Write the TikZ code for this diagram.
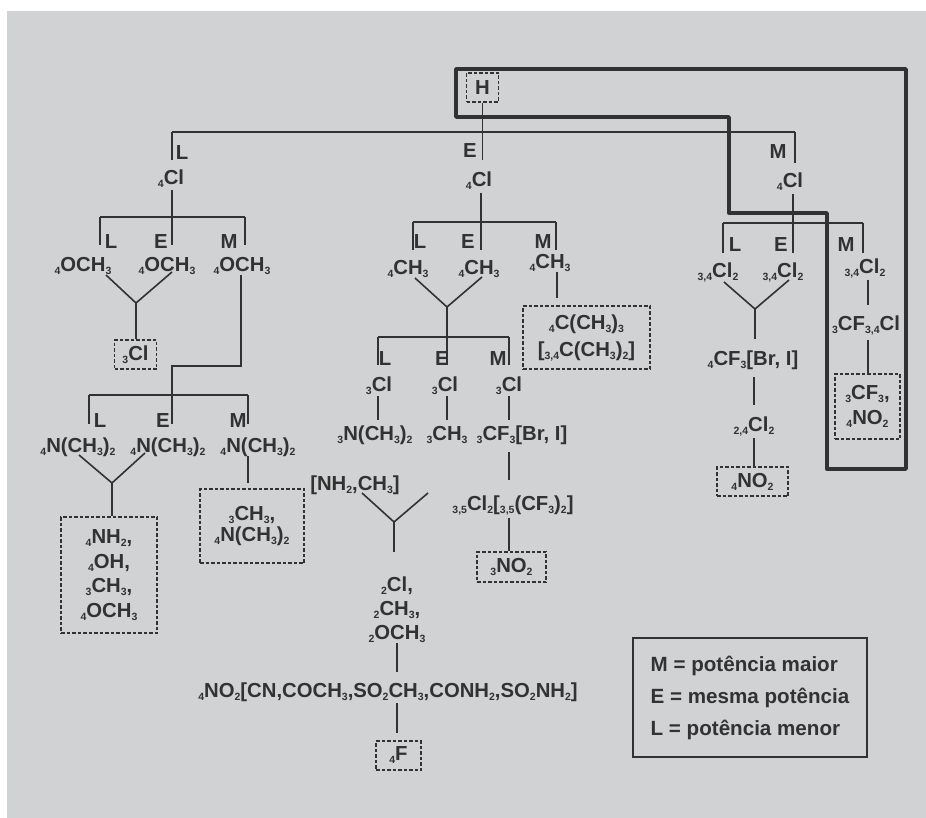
\documentclass[tikz,border=0pt]{standalone}
\usepackage{fontspec}
\setmainfont{Liberation Sans}
\definecolor{ink}{RGB}{50,50,50}
\definecolor{bg}{RGB}{209,210,212}
\newcommand\lo[1]{\raisebox{-3pt}{\fontsize{10.5}{11}\selectfont #1}}
\newcommand\fsz{\fontsize{20.3}{22}\selectfont\bfseries}
\tikzset{
  f/.style={font=\fsz, text=ink, inner sep=0pt},
  fb/.style={f, anchor=base},
  ln/.style={draw=ink, line width=1.6pt},
  dbox/.style={draw=ink, line width=1.3pt, dash pattern=on 3.5pt off 2pt, inner sep=0pt, f},
  frame/.style={draw=ink, line width=3.4pt, line join=round}
}
\begin{document}
\begin{tikzpicture}[x=1pt,y=-1pt]
\useasboundingbox (0,0) rectangle (926,818);
\fill[white] (0,0) rectangle (926,818);
\fill[bg] (7,11) rectangle (926,818);

% thick frame
\draw[frame] (456,69) -- (906,69) -- (906,469) -- (827,469) -- (827,213) -- (729,213) -- (729,117) -- (456,117) -- cycle;

% ---------- top ----------
\node[dbox, minimum width=32pt, minimum height=29pt] (H) at (482.5,87.5) {H};
\coordinate (tL) at (172,132);
\coordinate (tR) at (795,132);
\coordinate (lA) at (172,160);
\coordinate (eA) at (482.5,160);
\coordinate (rA) at (795,163);
\draw[ln] (tL) -- (tR);
\draw[ln] (tL) -- (lA);
\draw[ln] (H) -- (eA);
\draw[ln] (tR) -- (rA);
\node[f] (labTL) at (182,153) {L};
\node[f] (labTE) at (470,151) {E};
\node[f] (labTM) at (778,152) {M};

% ---------- left subtree ----------
\node[fb] (lCl) at (171,185) {\lo{4}Cl};
\coordinate (lbL) at (100,217);
\coordinate (lbR) at (245,217);
\coordinate (lL) at (100,245);
\coordinate (lE) at (172,245);
\coordinate (lM) at (245,245);
\draw[ln, shorten <=2pt] (lCl.south -| lE) -- (lE);
\draw[ln] (lbL) -- (lbR);
\draw[ln] (lbL) -- (lL);
\draw[ln] (lbR) -- (lM);
\node[f] (labL1) at (111,242) {L};
\node[f] (labE1) at (161,242) {E};
\node[f] (labM1) at (229,242) {M};
\node[fb] (o1) at (83,272) {\lo{4}OCH\lo{3}};
\node[fb] (o2) at (167,272) {\lo{4}OCH\lo{3}};
\node[fb] (o3) at (242,272) {\lo{4}OCH\lo{3}};
\coordinate (y1a) at (106,275);
\coordinate (y1b) at (172,272);
\coordinate (y1) at (136,303);
\draw[ln] (y1a) -- (y1) -- (y1b);
\node[dbox, minimum width=42pt, minimum height=29pt] (b3Cl) at (135.5,354.5) {\lo{3}Cl};
\draw[ln] (y1) -- (y1 |- b3Cl.north);
\coordinate (m1) at (241,366);
\coordinate (m2) at (172,366);
\coordinate (nE) at (172,424);
\draw[ln] (o3.south -| m1) -- (m1) -- (m2) -- (nE);
\coordinate (nbL) at (89,395);
\coordinate (nbR) at (248,395);
\coordinate (nL) at (89,424);
\coordinate (nM) at (248,424);
\draw[ln] (nbL) -- (nbR);
\draw[ln] (nbL) -- (nL);
\draw[ln] (nbR) -- (nM);
\node[f] (labL2) at (100,421) {L};
\node[f] (labE2) at (163,421) {E};
\node[f] (labM2) at (238,421) {M};
\node[fb] (n1) at (78,452) {\lo{4}N(CH\lo{3})\lo{2}};
\node[fb] (n2) at (168,452) {\lo{4}N(CH\lo{3})\lo{2}};
\node[fb] (n3) at (258,452) {\lo{4}N(CH\lo{3})\lo{2}};
\coordinate (y2a) at (79,455);
\coordinate (y2b) at (145,453);
\coordinate (y2) at (112,483);
\draw[ln] (y2a) -- (y2) -- (y2b);
\node[dbox, minimum width=96pt, minimum height=116pt, align=center, font=\fontsize{20.3}{24.7}\selectfont\bfseries] (box1) at (109,575)
  {\lo{4}NH\lo{2},\\\lo{4}OH,\\\lo{3}CH\lo{3},\\\lo{4}OCH\lo{3}};
\draw[ln] (y2) -- (y2 |- box1.north);
\coordinate (nmx) at (248,483);
\draw[ln] (n3.south -| nmx) -- (nmx);
\node[dbox, minimum width=104pt, minimum height=74pt, align=center, font=\fontsize{20.3}{21}\selectfont\bfseries] (box2) at (252,526)
  {\lo{3}CH\lo{3},\\\lo{4}N(CH\lo{3})\lo{2}};

% ---------- middle subtree ----------
\node[fb] (mCl) at (479,187) {\lo{4}Cl};
\coordinate (mbL) at (413,222);
\coordinate (mbR) at (556,222);
\coordinate (mL) at (413,250);
\coordinate (mE) at (481,250);
\coordinate (mM) at (556,250);
\draw[ln, shorten <=3pt] (mCl.south -| mE) -- (mE);
\draw[ln] (mbL) -- (mbR);
\draw[ln] (mbL) -- (mL);
\draw[ln] (mbR) -- (mM);
\node[f] (labL3) at (420,242) {L};
\node[f] (labE3) at (468,242) {E};
\node[f] (labM3) at (543,242) {M};
\node[fb] (c1) at (408,275) {\lo{4}CH\lo{3}};
\node[fb] (c2) at (479,275) {\lo{4}CH\lo{3}};
\node[fb] (c3) at (550,269) {\lo{4}CH\lo{3}};
\coordinate (y3a) at (415,278);
\coordinate (y3b) at (482,277);
\coordinate (y3) at (447,307);
\coordinate (qE) at (447,365);
\draw[ln] (y3a) -- (y3) -- (y3b);
\draw[ln] (y3) -- (qE);
\coordinate (cmx) at (557,298);
\draw[ln] (c3.south -| cmx) -- (cmx);
\node[dbox, minimum width=127pt, minimum height=63pt, align=center, font=\fontsize{20.3}{27}\selectfont\bfseries] (box3) at (586.5,337.5)
  {\lo{4}C(CH\lo{3})\lo{3}\\{}[\lo{3,4}C(CH\lo{3})\lo{2}]};
\coordinate (qbL) at (378,337);
\coordinate (qbR) at (509,337);
\coordinate (qL) at (378,365);
\coordinate (qM) at (509,365);
\draw[ln] (qbL) -- (qbR);
\draw[ln] (qbL) -- (qL);
\draw[ln] (qbR) -- (qM);
\node[f] (labL4) at (385,359) {L};
\node[f] (labE4) at (442,359) {E};
\node[f] (labM4) at (498,359) {M};
\node[fb] (k1) at (379,391) {\lo{3}Cl};
\node[fb] (k2) at (445,391) {\lo{3}Cl};
\node[fb] (k3) at (509,391) {\lo{3}Cl};
\node[fb] (j1) at (375,440) {\lo{3}N(CH\lo{3})\lo{2}};
\node[fb] (j2) at (447,440) {\lo{3}CH\lo{3}};
\node[fb] (j3) at (522,440) {\lo{3}CF\lo{3}[Br, I]};
\coordinate (j1t) at (378,420);
\coordinate (j2t) at (447,420);
\coordinate (j3t) at (509,420);
\draw[ln, shorten <=2pt] (k1.south -| j1t) -- (j1t);
\draw[ln, shorten <=2pt] (k2.south -| j2t) -- (j2t);
\draw[ln, shorten <=2pt] (k3.south -| j3t) -- (j3t);
\node[fb] (p1) at (513,510) {\lo{3,5}Cl\lo{2}[\lo{3,5}(CF\lo{3})\lo{2}]};
\coordinate (p1a) at (509,452);
\coordinate (p1b) at (509,480);
\draw[ln] (p1a) -- (p1b);
\node[dbox, minimum width=69pt, minimum height=30pt] (bNO2a) at (511.5,567) {\lo{3}NO\lo{2}};
\coordinate (p2a) at (509,518);
\draw[ln] (p2a) -- (p2a |- bNO2a.north);
\node[fb] (g1) at (355,490) {[NH\lo{2},CH\lo{3}]};
\coordinate (y4a) at (362,493);
\coordinate (y4b) at (428,493);
\coordinate (y4) at (394,522);
\coordinate (y4s) at (394,552);
\draw[ln] (y4a) -- (y4) -- (y4b);
\draw[ln] (y4) -- (y4s);
\node[f, align=center, font=\fontsize{20.3}{24}\selectfont\bfseries] (g2) at (397,610)
  {\lo{2}Cl,\\\lo{2}CH\lo{3},\\\lo{2}OCH\lo{3}};
\coordinate (g2a) at (397,643);
\coordinate (g2b) at (397,672);
\draw[ln] (g2a) -- (g2b);
\node[fb] (g3) at (388,697) {\lo{4}NO\lo{2}[CN,COCH\lo{3},SO\lo{2}CH\lo{3},CONH\lo{2},SO\lo{2}NH\lo{2}]};
\node[dbox, minimum width=45pt, minimum height=29pt] (bF) at (398.5,755.5) {\lo{4}F};
\coordinate (g3a) at (397,703);
\coordinate (g3b) at (397,733);
\draw[ln] (g3a) -- (g3b);

% ---------- right subtree ----------
\node[fb] (rCl) at (790,188) {\lo{4}Cl};
\coordinate (rbL) at (723,223);
\coordinate (rbR) at (863,223);
\coordinate (rL) at (723,253);
\coordinate (rE) at (793,253);
\coordinate (rM) at (863,253);
\draw[ln, shorten <=3pt] (rCl.south -| rE) -- (rE);
\draw[ln] (rbL) -- (rbR);
\draw[ln] (rbL) -- (rL);
\draw[ln] (rbR) -- (rM);
\node[f] (labL5) at (735,245) {L};
\node[f] (labE5) at (781,245) {E};
\node[f] (labM5) at (846,245) {M};
\node[fb] (s1) at (718,278) {\lo{3,4}Cl\lo{2}};
\node[fb] (s2) at (783,278) {\lo{3,4}Cl\lo{2}};
\node[fb] (s3) at (865,273) {\lo{3,4}Cl\lo{2}};
\coordinate (y5a) at (724,282);
\coordinate (y5b) at (789,280);
\coordinate (y5) at (755,309);
\coordinate (y5s) at (755,339);
\draw[ln] (y5a) -- (y5) -- (y5b);
\draw[ln] (y5) -- (y5s);
\node[fb] (s4) at (753,365) {\lo{4}CF\lo{3}[Br, I]};
\coordinate (s4a) at (754,377);
\coordinate (s4b) at (754,405);
\draw[ln] (s4a) -- (s4b);
\node[fb] (s5) at (754,431) {\lo{2,4}Cl\lo{2}};
\node[dbox, minimum width=71pt, minimum height=29pt] (bNO2b) at (752.5,481.5) {\lo{4}NO\lo{2}};
\draw[ln, shorten <=2pt] (s5.south -| s4a) -- (s4a |- bNO2b.north);
\coordinate (s3a) at (868,305);
\draw[ln, shorten <=2pt] (s3.south -| s3a) -- (s3a);
\node[fb] (s6) at (866,330) {\lo{3}CF\lo{3,4}Cl};
\node[dbox, minimum width=65pt, minimum height=65pt, align=center, font=\fontsize{20.3}{25}\selectfont\bfseries] (box4) at (867.5,406.5)
  {\lo{3}CF\lo{3},\\\lo{4}NO\lo{2}};
\coordinate (s6a) at (868,340);
\draw[ln] (s6a) -- (s6a |- box4.north);

% ---------- legend ----------
\node[draw=ink, line width=1.5pt, text=ink, minimum width=234pt, minimum height=119pt, align=left, inner sep=0pt,
      font=\fontsize{20.6}{32}\selectfont\bfseries] (leg) at (750,697.5)
  {M = potência maior\\E = mesma potência\\L = potência menor};
\end{tikzpicture}
\end{document}
